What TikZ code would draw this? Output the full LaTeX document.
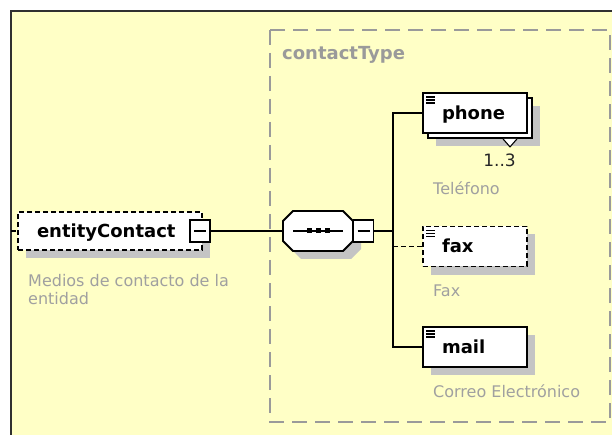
\documentclass[tikz,border=0pt]{standalone}
\usepackage{fontspec}
\setmainfont{DejaVu Sans}
\usetikzlibrary{positioning,shadows}

\definecolor{paneyellow}{HTML}{FFFFC6}
\definecolor{framegrey}{HTML}{303030}
\definecolor{groupgrey}{HTML}{9A9A9A}
\definecolor{docgrey}{HTML}{A0A0A0}
\definecolor{shadegrey}{HTML}{C4C4C4}

\tikzset{
  wire/.style={line width=1.6pt},
  optional/.style={dash pattern=on 5pt off 3pt},
  castshadow/.style={drop shadow={fill=shadegrey, opacity=1, shadow xshift=8pt, shadow yshift=-8pt}},
  element/.style={draw, line width=1.8pt, fill=white, inner ysep=0pt, inner xsep=19pt,
    minimum height=40pt, text width=66pt, align=left, text height=15pt, text depth=2pt,
    font=\fontsize{18}{20}\selectfont\bfseries},
  leaf/.style={path picture={
    \foreach \k in {0,1,2}
      \draw[solid, line width=1.1pt] ([shift={(3,4+3*\k)}]path picture bounding box.north west) -- ++(9,0);}},
  minusbox/.style={draw, line width=1.4pt, fill=white, minimum width=20pt, minimum height=22pt, inner sep=0pt,
    path picture={\draw[line width=1.4pt] ([xshift=4pt]path picture bounding box.west) -- ([xshift=-4pt]path picture bounding box.east);}},
  doc/.style={anchor=base west, inner sep=0pt, text=docgrey, font=\fontsize{16}{18}\selectfont},
}

\begin{document}
\begin{tikzpicture}[x=1pt,y=-1pt]
    \useasboundingbox (0,0) rectangle (612,435);
    % pane
    \fill[paneyellow] (10,10) rectangle (612,435);
    \draw[framegrey, line width=2pt] (11,435) -- (11,11) -- (612,11);

    % complex type group
    \draw[groupgrey, line width=2pt, dash pattern=on 15pt off 8pt] (270,30) rectangle (610,422);
    \node[anchor=base west, inner sep=0pt, text=groupgrey, font=\fontsize{18}{20}\selectfont\bfseries] (typename) at (282,60) {contactType};

    % root element
    \coordinate (rootin) at (11,231);
    \node[element, optional, castshadow, text width=146pt, minimum height=38pt] (entity) at (110,231) {entityContact};
    \draw[wire, optional] (rootin) -- (entity.west);
    \node[minusbox] (entityminus) at (200,231) {};
    \node[doc, anchor=north west, align=left] (entitydoc) at (28,274) {Medios de contacto de la\\entidad};

    % sequence
    \node[minimum width=70pt, minimum height=40pt, inner sep=0pt, outer sep=0pt] (seq) at (318,231) {};
    \draw[castshadow, line width=1.8pt, fill=white]
        ([xshift=10pt]seq.north west) -- ([xshift=-10pt]seq.north east) -- ([yshift=-10pt]seq.north east)
        -- ([yshift=10pt]seq.south east) -- ([xshift=-10pt]seq.south east) -- ([xshift=10pt]seq.south west)
        -- ([yshift=10pt]seq.south west) -- ([yshift=-10pt]seq.north west) -- cycle;
    \draw[wire] ([xshift=-25pt]seq.center) -- ([xshift=25pt]seq.center);
    \foreach \dx in {-9,0,9}
        \fill ([xshift=\dx pt]seq.center) +(-2.5,-2.5) rectangle +(2.5,2.5);
    \node[minusbox, anchor=west] (seqminus) at (seq.east) {};
    \draw[wire] (entityminus) -- (seq);
    \coordinate (bar) at (393,231);
    \draw[wire] (seqminus) -- (bar);

    % children
    \node[element, castshadow] (phoneback) at (480,118) {};
    \node[element, leaf] (phone) at (475,113) {phone};
    \draw[line width=1.1pt, fill=white] ([xshift=30pt]phoneback.south) ++(-7,0) -- ++(7,8) -- ++(7,-8);
    \node[anchor=base east, inner sep=0pt, font=\fontsize{17}{20}\selectfont, text=black!85] (phonecard) at (516,167) {1..3};
    \node[doc] (phonedoc) at (433,195) {Teléfono};

    \node[element, leaf, optional, castshadow] (fax) at (475,246.5) {fax};
    \node[doc] (faxdoc) at (433,296) {Fax};

    \node[element, leaf, castshadow] (mail) at (475,347) {mail};
    \node[doc] (maildoc) at (433,397) {Correo Electrónico};

    \draw[wire] (phone.west) -| (bar) |- (mail.west);
    \draw[wire, optional] (bar |- fax.west) -- (fax.west);
\end{tikzpicture}
\end{document}
